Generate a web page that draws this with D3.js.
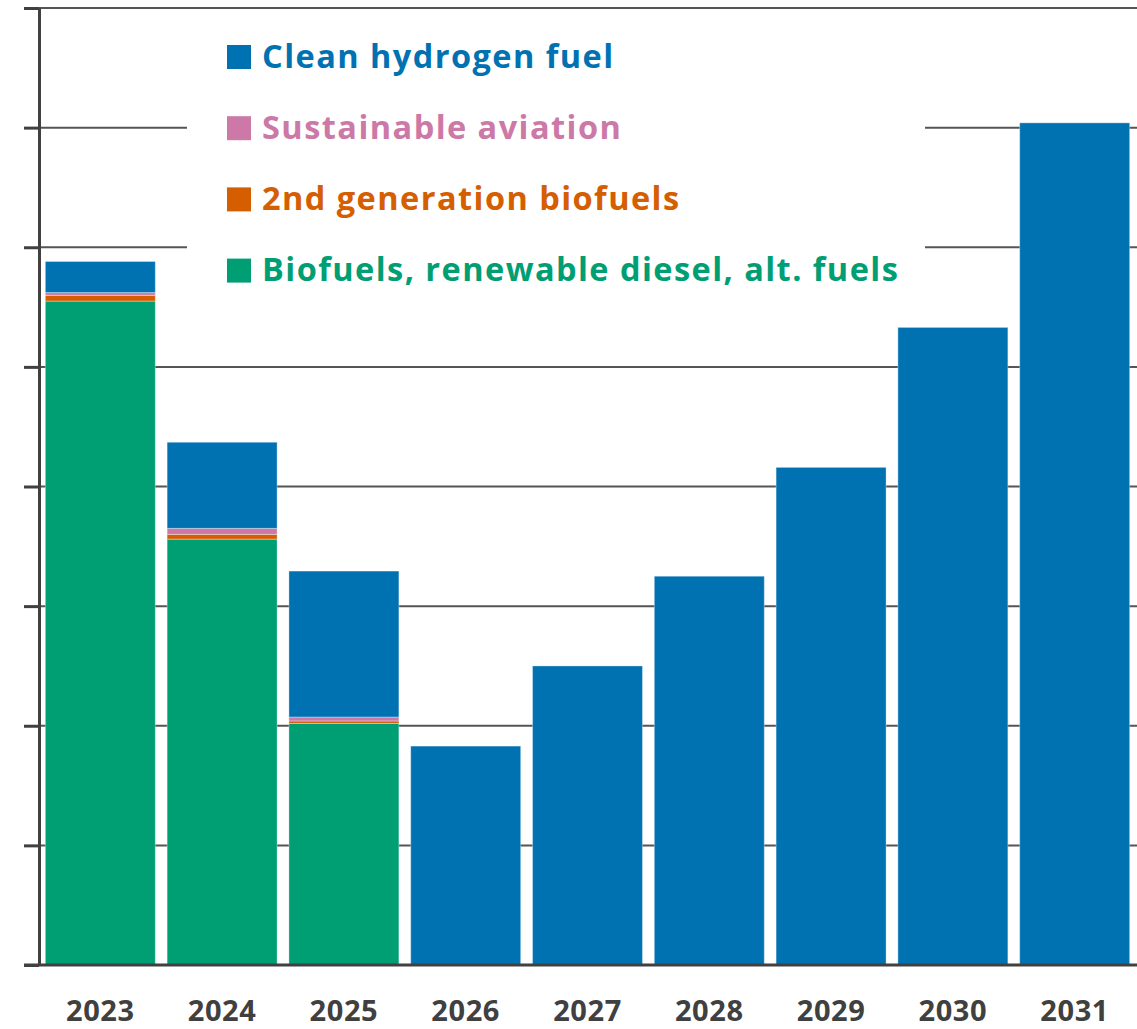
<!DOCTYPE html>
<html>
<head>
<meta charset="utf-8">
<script src="https://cdn.jsdelivr.net/npm/d3@7"></script>
<style>
	body { margin: 0; background: #fff; }
	svg { display: block; font-family: "Open Sans", Lato, sans-serif; }
</style>
</head>
<body>
<svg id="chart"></svg>
<script>
// values (units = gridline steps)
let years = ["2023", "2024", "2025", "2026", "2027", "2028", "2029", "2030", "2031"];
let biofuels = [5.55, 3.56, 2.02, 0, 0, 0, 0, 0, 0];
let secondGen = [0.048, 0.04, 0.02, 0, 0, 0, 0, 0, 0];
let aviation = [0.023, 0.05, 0.033, 0, 0, 0, 0, 0, 0];
let hydrogen = [0.26, 0.72, 1.22, 1.83, 2.50, 3.25, 4.16, 5.33, 7.04];
let yTicks = [0, 1, 2, 3, 4, 5, 6, 7, 8];

let seriesKeys = ["biofuels", "secondGen", "aviation", "hydrogen"];
let seriesNames = {
	hydrogen: "Clean hydrogen fuel",
	aviation: "Sustainable aviation",
	secondGen: "2nd generation biofuels",
	biofuels: "Biofuels, renewable diesel, alt. fuels"
};
let colors = {
	hydrogen: "#0072B2",
	aviation: "#CC79A7",
	secondGen: "#D55E00",
	biofuels: "#009E73"
};

let width = 1137;
let height = 1029;
let axisX = 39;
let axisColor = "#404040";

let table = years.map((yr, i) => ({
	year: yr,
	biofuels: biofuels[i],
	secondGen: secondGen[i],
	aviation: aviation[i],
	hydrogen: hydrogen[i]
}));

let svg = d3.select("#chart")
	.attr("width", width)
	.attr("height", height);

let x = d3.scaleBand()
	.domain(years)
	.range([axisX, width - 1])
	.paddingInner(0.097)
	.paddingOuter(0.052);

let y = d3.scaleLinear()
	.domain([0, 8])
	.range([965, 8]);

// gridlines
svg.append("g")
	.selectAll("line")
	.data(yTicks.filter(d => d > 0))
	.enter().append("line")
	.attr("x1", axisX)
	.attr("x2", width)
	.attr("y1", d => y(d))
	.attr("y2", d => y(d))
	.attr("stroke", "#555")
	.attr("stroke-width", 2);

// white box behind legend hides part of the grid
svg.append("rect")
	.attr("x", 187)
	.attr("y", 20)
	.attr("width", 738)
	.attr("height", 280)
	.attr("fill", "#fff");

// stacked bars
let stacked = d3.stack().keys(seriesKeys)(table);

svg.append("g")
	.selectAll("g")
	.data(stacked)
	.enter().append("g")
	.attr("fill", d => colors[d.key])
	.selectAll("rect")
	.data(d => d.filter(p => p[1] - p[0] > 0))
	.enter().append("rect")
	.attr("x", d => x(d.data.year))
	.attr("width", x.bandwidth())
	.attr("y", d => y(d[1]))
	.attr("height", d => y(d[0]) - y(d[1]))
	.attr("stroke", "#fff")
	.attr("stroke-opacity", 0.35)
	.attr("stroke-width", 1);

// left axis with outside ticks, no labels
let yAxis = svg.append("g")
	.attr("transform", `translate(${axisX},0)`)
	.call(d3.axisLeft(y).tickValues(yTicks).tickSize(15).tickSizeOuter(0).tickFormat(""));
yAxis.select(".domain").attr("stroke", axisColor).attr("stroke-width", 3);
yAxis.selectAll(".tick line").attr("stroke", axisColor).attr("stroke-width", 3);

// baseline
svg.append("line")
	.attr("x1", axisX - 15)
	.attr("x2", width)
	.attr("y1", y(0))
	.attr("y2", y(0))
	.attr("stroke", axisColor)
	.attr("stroke-width", 3);

// year labels
svg.append("g")
	.selectAll("text")
	.data(years)
	.enter().append("text")
	.attr("x", d => x(d) + x.bandwidth() / 2)
	.attr("y", 1021)
	.attr("text-anchor", "middle")
	.attr("font-size", 29)
	.attr("font-weight", "bold")
	.attr("letter-spacing", 0.6)
	.attr("fill", axisColor)
	.text(d => d);

// legend
let legendOrder = ["hydrogen", "aviation", "secondGen", "biofuels"];
let legend = svg.append("g")
	.selectAll("g")
	.data(legendOrder)
	.enter().append("g")
	.attr("transform", (d, i) => `translate(227,${45 + i * 71.2})`);

legend.append("rect")
	.attr("width", 24)
	.attr("height", 24)
	.attr("fill", d => colors[d]);

legend.append("text")
	.attr("x", 35)
	.attr("y", 22.5)
	.attr("font-size", 32.5)
	.attr("font-weight", "bold")
	.attr("letter-spacing", 1.45)
	.attr("fill", d => colors[d])
	.text(d => seriesNames[d]);
</script>
</body>
</html>
